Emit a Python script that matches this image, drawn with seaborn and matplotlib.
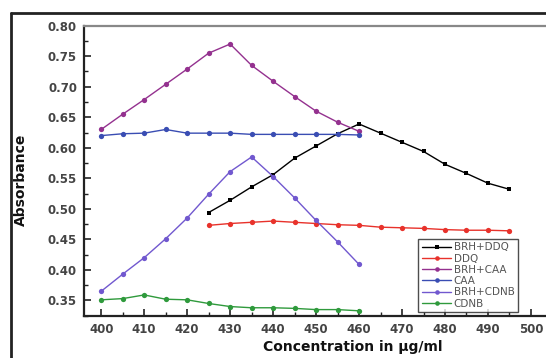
import numpy as np
import pandas as pd
import matplotlib
matplotlib.use('Agg')
import matplotlib.pyplot as plt
import seaborn as sn
from matplotlib.lines import Line2D
import matplotlib.ticker as mtick

# data
conc_a = [400, 405, 410, 415, 420, 425, 430, 435, 440, 445, 450, 455, 460]
conc_b = [425, 430, 435, 440, 445, 450, 455, 460, 465, 470, 475, 480, 485, 490, 495]

brh_ddq = [0.494, 0.514, 0.536, 0.556, 0.583, 0.603, 0.623, 0.639, 0.624, 0.609, 0.594, 0.573, 0.558, 0.542, 0.532]
ddq = [0.473, 0.476, 0.478, 0.480, 0.478, 0.476, 0.474, 0.473, 0.470, 0.469, 0.468, 0.466, 0.465, 0.465, 0.464]
brh_caa = [0.630, 0.655, 0.679, 0.704, 0.729, 0.755, 0.770, 0.735, 0.709, 0.684, 0.660, 0.642, 0.627]
caa = [0.620, 0.623, 0.624, 0.630, 0.624, 0.624, 0.624, 0.622, 0.622, 0.622, 0.622, 0.622, 0.621]
brh_cdnb = [0.365, 0.393, 0.420, 0.451, 0.485, 0.524, 0.561, 0.585, 0.553, 0.518, 0.481, 0.446, 0.409]
cdnb = [0.351, 0.353, 0.359, 0.352, 0.351, 0.345, 0.340, 0.338, 0.338, 0.337, 0.335, 0.335, 0.333]

series_names = ['BRH+DDQ', 'DDQ', 'BRH+CAA', 'CAA', 'BRH+CDNB', 'CDNB']

##############################################################################
# styles
##############################################################################

colors = {'BRH+DDQ': 'black', 'DDQ': '#e8322b', 'BRH+CAA': '#94318f',
          'CAA': '#3a4db3', 'BRH+CDNB': '#7158cf', 'CDNB': '#2f9a3c'}
marks = {'BRH+DDQ': 's', 'DDQ': 'o', 'BRH+CAA': 'o', 'CAA': 'o', 'BRH+CDNB': 'o', 'CDNB': 'o'}

frames = []
for name, xs, ys in [('BRH+DDQ', conc_b, brh_ddq), ('DDQ', conc_b, ddq),
                     ('BRH+CAA', conc_a, brh_caa), ('CAA', conc_a, caa),
                     ('BRH+CDNB', conc_a, brh_cdnb), ('CDNB', conc_a, cdnb)]:
    frames.append(pd.DataFrame({'conc': xs, 'abs': ys, 'series': name}))
df = pd.concat(frames, ignore_index=True)

sn.set_style('white')
plt.rcParams['font.family'] = ['DejaVu Sans']

W, H = 546, 358
fig = plt.figure(figsize=(W / 100, H / 100), dpi=100)
ax = fig.add_axes([84 / W, 1 - 315.7 / H, 1 - 84 / W, (315.7 - 25.7) / H])

sn.lineplot(data=df, x='conc', y='abs', hue='series', style='series',
            hue_order=series_names, style_order=series_names,
            palette=colors, markers=marks, dashes=False,
            markersize=3.8, markeredgewidth=0, linewidth=1.0, ax=ax, legend=False)
# squares look a bit smaller than the dots
for ln in ax.lines:
    if ln.get_marker() == 's':
        ln.set_markersize(3.2)

ax.set_xlim(396, 503.5)
ax.set_ylim(0.325, 0.80)
ax.xaxis.set_major_locator(mtick.MultipleLocator(10))
ax.xaxis.set_minor_locator(mtick.MultipleLocator(5))
ax.yaxis.set_major_locator(mtick.MultipleLocator(0.05))
ax.yaxis.set_minor_locator(mtick.MultipleLocator(0.025))
ax.yaxis.set_major_formatter(mtick.FormatStrFormatter('%.2f'))
ax.tick_params(which='major', direction='in', length=5, width=1.2, color='#222',
               labelsize=8.5, labelcolor='#444', pad=5, bottom=True, left=True)
ax.tick_params(which='minor', direction='in', length=3, width=1.0, color='#222',
               bottom=True, left=True)
for lab in ax.get_xticklabels() + ax.get_yticklabels():
    lab.set_fontweight('bold')

for s in ['left', 'bottom']:
    ax.spines[s].set_color('#222')
    ax.spines[s].set_linewidth(1.6)
ax.spines['top'].set_color('#888')
ax.spines['top'].set_linewidth(1.6)
ax.spines['right'].set_visible(False)

ax.set_xlabel('Concentration in µg/ml', fontsize=10, fontweight='bold', color='#111')
ax.xaxis.set_label_coords((353 - 84) / 462, -0.083)
ax.set_ylabel('Absorbance', fontsize=10, fontweight='bold', color='#111',
              family=['Liberation Sans Narrow', 'DejaVu Sans'])
ax.yaxis.set_label_coords(-0.121, 0.47)

handles = [Line2D([0], [0], color=colors[n], marker=marks[n], ms=3.3, mew=0, lw=1.0, label=n)
           for n in series_names]
leg = ax.legend(handles=handles, loc='lower right', bbox_to_anchor=(0.94, 0.012),
                fontsize=7.5, frameon=True, fancybox=False, handlelength=2.8,
                handletextpad=0.25, borderpad=0.35, labelspacing=0.12, borderaxespad=0)
leg.get_frame().set_edgecolor('#222')
leg.get_frame().set_linewidth(1.0)
for t in leg.get_texts():
    t.set_color('#555')

# outer frame of the picture
fig.add_artist(Line2D([11 / W, 11 / W], [0, 1 - 13 / H], color='#222', lw=2.0))
fig.add_artist(Line2D([11 / W, 1], [1 - 13 / H, 1 - 13 / H], color='#222', lw=2.0))

plt.savefig('out.png', dpi=100)
